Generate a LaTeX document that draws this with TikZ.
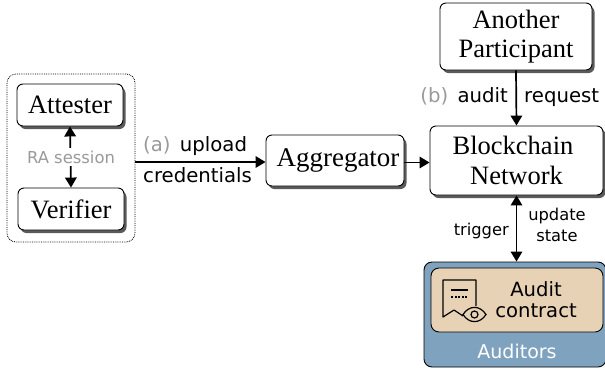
\documentclass[tikz,border=0pt]{standalone}
\usepackage{fontspec}
\setmainfont{Liberation Serif}
\newfontfamily\lblfont{DejaVu Sans}
\usetikzlibrary{arrows.meta,shadows}
\definecolor{shadowgray}{HTML}{5A5A5A}
\definecolor{audblue}{HTML}{7FA3BF}
\definecolor{contract}{HTML}{E8D2B6}
\definecolor{tagray}{HTML}{9A9A9A}
\tikzset{
  box/.style={draw=black,line width=0.9pt,fill=white,rounded corners=6pt,inner sep=0pt,align=center,
    font=\fontsize{26.5}{29.5}\selectfont,
    drop shadow={shadow xshift=2.5pt,shadow yshift=-3pt,fill=shadowgray,opacity=1}},
  lbl/.style={font=\lblfont\fontsize{19.7}{24}\selectfont,inner sep=0pt,text=black},
  small/.style={font=\lblfont\fontsize{16.3}{21}\selectfont,inner sep=0pt,align=center,text=black},
  conn/.style={line width=1.7pt,-{Triangle[length=10pt,width=11.5pt]}},
  conn2/.style={line width=1.7pt,{Triangle[length=10pt,width=11.5pt]}-{Triangle[length=10pt,width=11.5pt]}},
}
\begin{document}
\begin{tikzpicture}[x=1pt,y=-1pt]
\useasboundingbox (0,0) rectangle (605,373);
\node[draw=black,densely dotted,line width=0.8pt,rounded corners=9pt,minimum width=128pt,minimum height=168pt,inner sep=0pt] (outer) at (71,158) {};
\node[box,minimum width=106pt,minimum height=42pt] (att) at (70,105) {Attester};
\node[box,minimum width=106pt,minimum height=42pt] (ver) at (71,209) {Verifier};
\draw[conn2] (att.south) -- (ver.north);
\node[fill=white,text=tagray,font=\lblfont\fontsize{16.4}{20}\selectfont,inner xsep=0pt,inner ysep=3pt] (ra) at (71,157) {RA session};
\node[box,font=\fontsize{27}{30}\selectfont,minimum width=138pt,minimum height=51pt] (agg) at (335,160.5) {\hspace*{6pt}Aggregator};
\node[box,minimum width=173pt,minimum height=69pt] (bc) at (516.5,160.5) {Blockchain\kern7pt\\Network};
\node[box,minimum width=152pt,minimum height=67pt] (ap) at (516,36.5) {Another\\Participant};
\node[draw=black,line width=0.9pt,fill=audblue,rounded corners=8pt,minimum width=182pt,minimum height=105pt,inner sep=0pt] (aud) at (515,314.5) {};
\node[draw=black,line width=0.9pt,fill=contract,rounded corners=8pt,minimum width=172pt,minimum height=64pt,inner sep=0pt] (con) at (517,300) {};
\node[inner sep=0pt,text=white,font=\lblfont\fontsize{19}{23}\selectfont] (audt) at (517,351) {Auditors};
\node[inner sep=0pt,align=center,font=\lblfont\fontsize{19.6}{21}\selectfont] (cont) at (536,300) {Audit\\contract};
% icon
\draw[line width=1.2pt,line join=round] (476,306) -- (476,280) -- (443,280) -- (443,317) -- (454,310) -- (463,316);
\draw[line width=1.2pt] (451,290) -- (468,290);
\draw[line width=1.2pt,dash pattern=on 2pt off 1.5pt] (451,297) -- (468,297);
\draw[line width=1.2pt] (463,314.5) .. controls (469,305) and (480,305) .. (486,314.5) .. controls (480,324) and (469,324) .. (463,314.5) -- cycle;
\draw[line width=1.2pt] (474.5,314.5) circle[radius=3.5pt];
% connectors
\draw[conn] ([yshift=-1.5pt]outer.east |- agg.west) -- ([yshift=-1.5pt]agg.west);
\draw[conn] ([yshift=-2pt]agg.east) -- ([yshift=-2pt]agg.east -| bc.west);
\draw[conn] (ap.south) -- (bc.north);
\draw[conn2] (bc.south) -- (bc.south |- aud.north);
% labels
\node[lbl,anchor=base west] (la) at (143,151) {\textcolor{tagray}{(a)}\kern3pt{} upload};
\node[lbl,anchor=base west] (lb) at (143,182) {credentials};
\node[lbl,anchor=base east] (lc) at (508,102) {\textcolor{tagray}{(b)}\kern3pt{} audit};
\node[lbl,anchor=base west] (ld) at (524,102) {request};
\node[small,anchor=base east] (le) at (509,235) {trigger};
\node[small] (lf) at (557,225) {update\\state};
\end{tikzpicture}
\end{document}
